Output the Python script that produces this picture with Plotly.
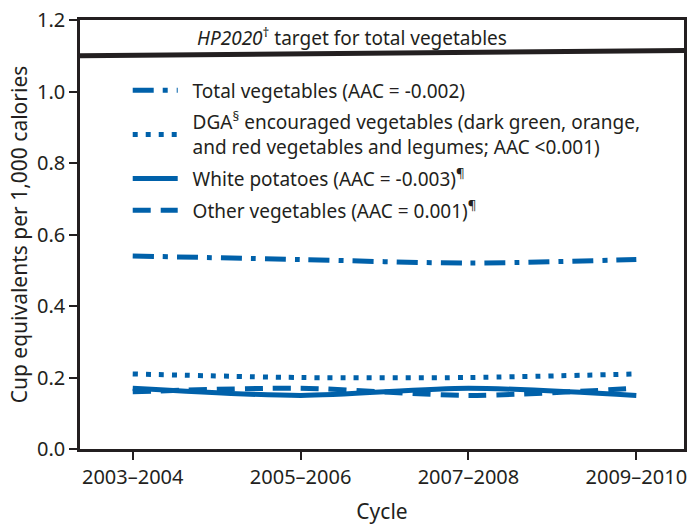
import plotly.graph_objects as go

cycles = ["2003–2004", "2005–2006", "2007–2008", "2009–2010"]
x_pos = [0, 1, 2, 3]

total_veg = [0.54, 0.53, 0.52, 0.53]
dga_veg = [0.21, 0.20, 0.20, 0.21]
white_potatoes = [0.17, 0.15, 0.17, 0.15]
other_veg = [0.16, 0.17, 0.15, 0.17]

target = [1.10, 1.115]  # HP2020 target line (left end, right end)

y_ticks = [0.0, 0.2, 0.4, 0.6, 0.8, 1.0, 1.2]

SP = "\u00a0\u00a0"
names = [
    SP + "Total vegetables (AAC = -0.002)",
    SP + "DGA<sup>§</sup> encouraged vegetables (dark green, orange,<br>" + SP + "and red vegetables and legumes; AAC <0.001)",
    SP + "White potatoes (AAC = -0.003)<sup>¶</sup>",
    SP + "Other vegetables (AAC = 0.001)<sup>¶</sup>",
]

BLUE = "#0061AA"
INK = "#231f20"
FONT = "Noto Sans"

fig = go.Figure()
series = [total_veg, dga_veg, white_potatoes, other_veg]
dashes = ["21px,9px,5px,9px", "5px,8px", "solid", "18px,10px"]
for i, (vals, d, n) in enumerate(zip(series, dashes, names)):
    fig.add_trace(go.Scatter(
        x=x_pos, y=vals, mode="lines", name=n,
        line=dict(color=BLUE, width=5, dash=d, shape="spline", smoothing=0.8),
        legendgroup=f"g{i}",
    ))

fig.add_shape(type="line", xref="paper", yref="y", x0=0, x1=1,
              y0=target[0], y1=target[1], line=dict(color=INK, width=5))
fig.add_annotation(xref="x", yref="y", x=0.37, y=1.152, xanchor="left", yanchor="middle",
                   text="<i>HP2020</i><sup>†</sup> target for total vegetables",
                   showarrow=False, font=dict(family=FONT, size=19, color=INK))

fig.update_layout(
    width=689, height=527,
    margin=dict(l=80, r=2, t=20, b=78),
    paper_bgcolor="white", plot_bgcolor="white",
    font=dict(family=FONT, size=19, color=INK),
    showlegend=True,
    legend=dict(x=0.079, y=0.88, xanchor="left", yanchor="top",
                bgcolor="rgba(0,0,0,0)", font=dict(size=19, color=INK),
                tracegroupgap=4, itemwidth=45),
    xaxis=dict(range=[-0.314, 3.284], tickvals=x_pos, ticktext=cycles,
               showgrid=False, zeroline=False, showline=True, linecolor=INK,
               linewidth=2.5, mirror=True, ticks="outside", ticklen=8, tickwidth=2,
               tickcolor=INK, tickfont=dict(size=20),
               title=dict(text="Cycle", font=dict(size=21), standoff=16)),
    yaxis=dict(range=[0, 1.2], tickvals=y_ticks, tickformat=".1f",
               showgrid=False, zeroline=False, showline=True, linecolor=INK,
               linewidth=2.5, mirror=True, ticks="outside", ticklen=8, tickwidth=2,
               tickcolor=INK, tickfont=dict(size=20),
               title=dict(text="Cup equivalents per 1,000 calories", font=dict(size=21), standoff=4)),
)

fig.write_html("out.html", config={"displayModeBar": False},
               post_script="document.body.style.margin='0';document.body.style.overflow='hidden';")
